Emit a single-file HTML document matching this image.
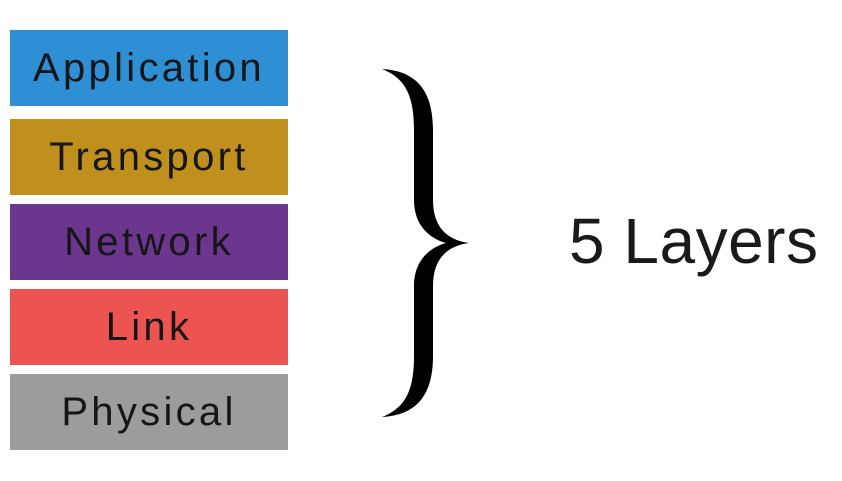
<!DOCTYPE html>
<html><head><meta charset="utf-8"><style>
body{margin:0;width:842px;height:481px;background:#fff;position:relative;overflow:hidden;font-family:"Liberation Sans",sans-serif;}
.b{position:absolute;left:10px;width:278px;height:76px;color:#161616;font-size:40px;letter-spacing:3.3px;text-align:center;line-height:76px;}
.t{position:absolute;left:569px;top:203px;font-size:64px;line-height:76px;color:#1a1a1a;letter-spacing:0.5px;}
</style></head><body>
<div class="b" style="top:30px;background:#2e8fd4">Application</div>
<div class="b" style="top:119px;background:#c0901e">Transport</div>
<div class="b" style="top:204px;background:#6c358e">Network</div>
<div class="b" style="top:289px;background:#eb5450">Link</div>
<div class="b" style="top:374px;background:#9a9d9a">Physical</div>
<svg width="842" height="481" style="position:absolute;left:0;top:0">
<path fill="#000" d="M382,69 C420,71 433,95 433,130 L433,200 C433,226 446,240 469,243 C446,246 433,260 433,286 L433,356 C433,391 420,415 382,417 C405,408 414,391 414,356 L414,286 C414,262 428,248 446,243 C428,238 414,224 414,200 L414,130 C414,95 405,78 382,69 Z"/>
</svg>
<div class="t">5 Layers</div>
</body></html>
